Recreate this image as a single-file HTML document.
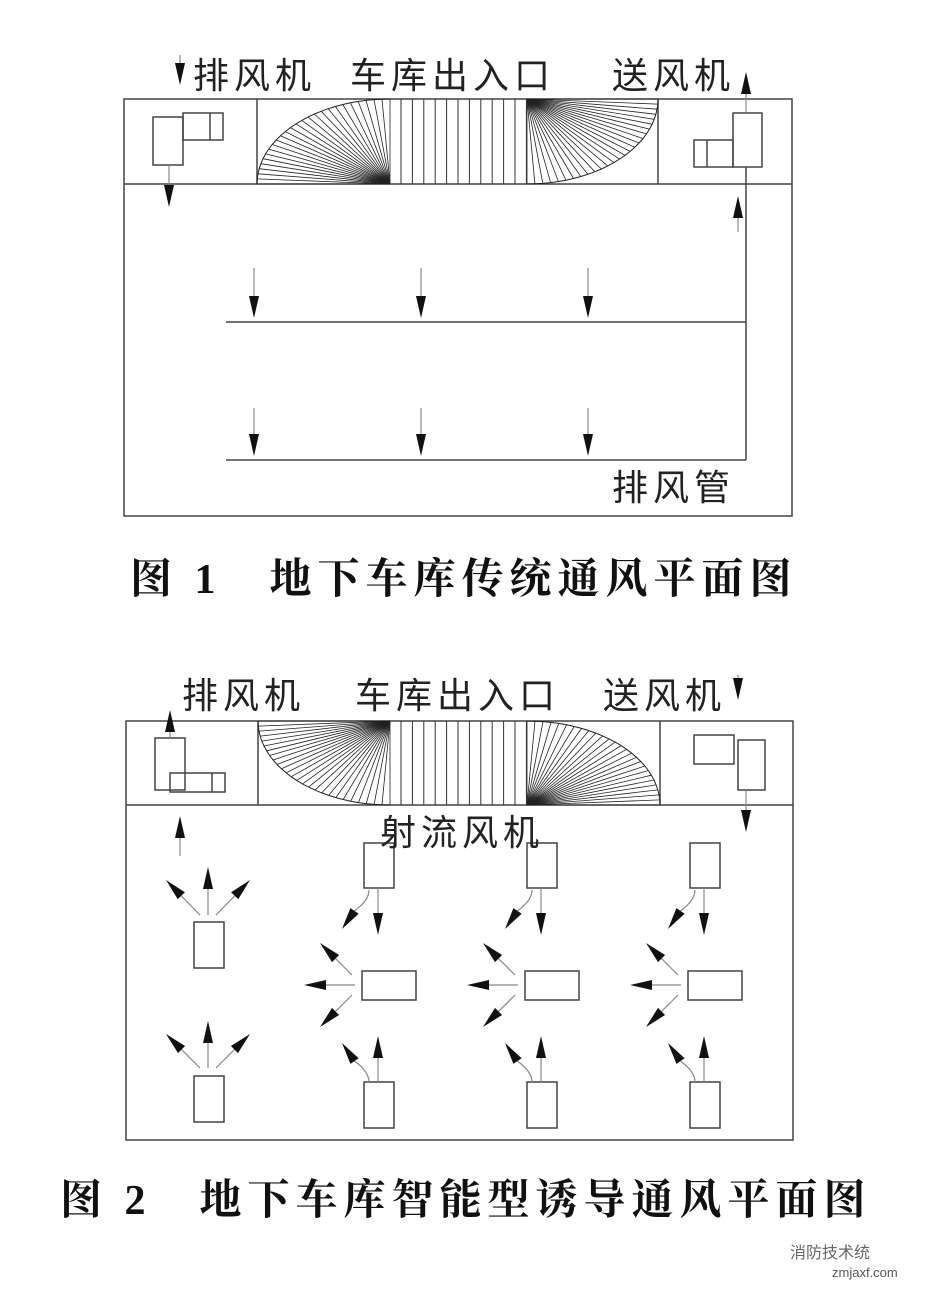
<!DOCTYPE html>
<html><head><meta charset="utf-8"><style>
html,body{margin:0;padding:0;background:#fff;}
svg{display:block}
text{font-family:"Liberation Sans","Noto Sans CJK SC",sans-serif;fill:#222}
.lb{letter-spacing:5px}
.cap{font-family:"Liberation Serif","Noto Serif CJK SC",serif;font-weight:bold;fill:#111;letter-spacing:6px}
</style></head><body>
<svg id="s" width="934" height="1292" viewBox="0 0 934 1292" xmlns="http://www.w3.org/2000/svg">
<g fill="none" stroke="#444" stroke-width="1.5">
<rect x="124" y="99" width="668" height="417"/>
<line x1="124" y1="184" x2="792" y2="184"/>
<line x1="257" y1="99" x2="257" y2="184"/>
<line x1="658" y1="99" x2="658" y2="184"/>
<rect x="153" y="117" width="30" height="48"/>
<rect x="183" y="113" width="40" height="27"/>
<line x1="210" y1="113" x2="210" y2="140"/>
<rect x="733" y="113" width="29" height="54"/>
<rect x="694" y="140" width="39" height="27"/>
<line x1="707" y1="140" x2="707" y2="167"/>
<line x1="226" y1="322" x2="746" y2="322"/>
<line x1="226" y1="460" x2="746" y2="460"/>
<line x1="746" y1="167" x2="746" y2="460"/>
<rect x="126" y="721" width="667" height="419"/>
<line x1="126" y1="805" x2="793" y2="805"/>
<line x1="258" y1="721" x2="258" y2="805"/>
<line x1="660" y1="721" x2="660" y2="805"/>
<rect x="155" y="738" width="30" height="52"/>
<rect x="170" y="773" width="55" height="19"/>
<line x1="212" y1="773" x2="212" y2="792"/>
<rect x="694" y="735" width="40" height="29"/>
<rect x="738" y="740" width="27" height="50"/>
<rect x="194" y="922" width="30" height="46"/>
<rect x="194" y="1076" width="30" height="46"/>
</g>
<g id="dyn"></g>
<text x="193" y="88" font-size="36" class="lb">排风机</text>
<text x="350" y="88" font-size="36" class="lb">车库出入口</text>
<text x="612" y="88" font-size="36" class="lb">送风机</text>
<text x="612" y="500" font-size="36" class="lb">排风管</text>
<text x="130" y="593" font-size="42" class="cap">图 1　地下车库传统通风平面图</text>
<text x="182" y="708" font-size="36" class="lb">排风机</text>
<text x="355" y="708" font-size="36" class="lb">车库出入口</text>
<text x="603" y="708" font-size="36" class="lb">送风机</text>
<text x="380" y="845" font-size="36" class="lb">射流风机</text>
<text x="60" y="1214" font-size="42" class="cap">图 2　地下车库智能型诱导通风平面图</text>
<text x="790" y="1258" font-size="16" style="fill:#666">消防技术统</text>
<text x="832" y="1277" font-size="13" style="fill:#555">zmjaxf.com</text>
</svg>
<script>
var g=document.getElementById('dyn'),h='';
function L(a,b,c,d,col,w){h+='<line x1="'+a+'" y1="'+b+'" x2="'+c+'" y2="'+d+'" stroke="'+(col||'#333')+'" stroke-width="'+(w||1)+'"/>';}
function A(x1,y1,x2,y2,curve){
 var dx=x2-x1,dy=y2-y1,l=Math.hypot(dx,dy),ux=dx/l,uy=dy/l,hl=22,hw=5;
 var bx=x2-ux*hl,by=y2-uy*hl;
 if(curve){h+='<path d="M'+x1+' '+y1+' Q'+(x1)+' '+((y1+by)/2)+' '+bx+' '+by+'" fill="none" stroke="#888" stroke-width="1.2"/>';}
 else L(x1,y1,bx,by,'#888',1.2);
 h+='<polygon points="'+x2+','+y2+' '+(bx-uy*hw)+','+(by+ux*hw)+' '+(bx+uy*hw)+','+(by-ux*hw)+'" fill="#111"/>';
}
function fan(px,py,sx,sy,rx,ry){
 var n=26,pts='';
 for(var i=0;i<=n;i++){var t=i/n*Math.PI/2,x=px+sx*rx*Math.cos(t),y=py+sy*ry*Math.sin(t);
  L(px,py,x.toFixed(1),y.toFixed(1),'#222',0.8);pts+=x.toFixed(1)+','+y.toFixed(1)+' ';}
 h+='<polyline points="'+pts+'" fill="none" stroke="#222" stroke-width="1"/>';
}
fan(390,184,-1,-1,133,85);fan(527,99,1,1,131,85);
fan(390,721,-1,1,132,84);fan(527,805,1,-1,133,84);
for(var x=401;x<527;x+=11.4){L(x.toFixed(1),99,x.toFixed(1),184,'#333',1);L(x.toFixed(1),721,x.toFixed(1),805,'#333',1);}
A(180,55,180,85);A(169,165,169,207);A(746,112,746,72);A(738,232,738,196);
[254,421,588].forEach(function(x){A(x,268,x,318);A(x,408,x,456);});
A(170,738,170,710);A(738,675,738,700);A(746,790,746,832);A(180,856,180,816);
A(208,915,208,867);A(200,915,166,880);A(216,915,250,880);
A(208,1068,208,1021);A(200,1068,166,1034);A(216,1068,250,1034);
[0,163,326].forEach(function(o){
 h+='<rect x="'+(364+o)+'" y="843" width="30" height="45" fill="none" stroke="#444" stroke-width="1.5"/>';
 h+='<rect x="'+(362+o)+'" y="971" width="54" height="29" fill="none" stroke="#444" stroke-width="1.5"/>';
 h+='<rect x="'+(364+o)+'" y="1082" width="30" height="46" fill="none" stroke="#444" stroke-width="1.5"/>';
 A(378+o,888,378+o,935);A(369+o,890,342+o,929,1);
 A(355+o,985,304+o,985);A(352+o,975,320+o,943);A(352+o,995,320+o,1027);
 A(378+o,1082,378+o,1036);A(369+o,1082,342+o,1043,1);
});
g.innerHTML=h;
</script>
</body></html>
